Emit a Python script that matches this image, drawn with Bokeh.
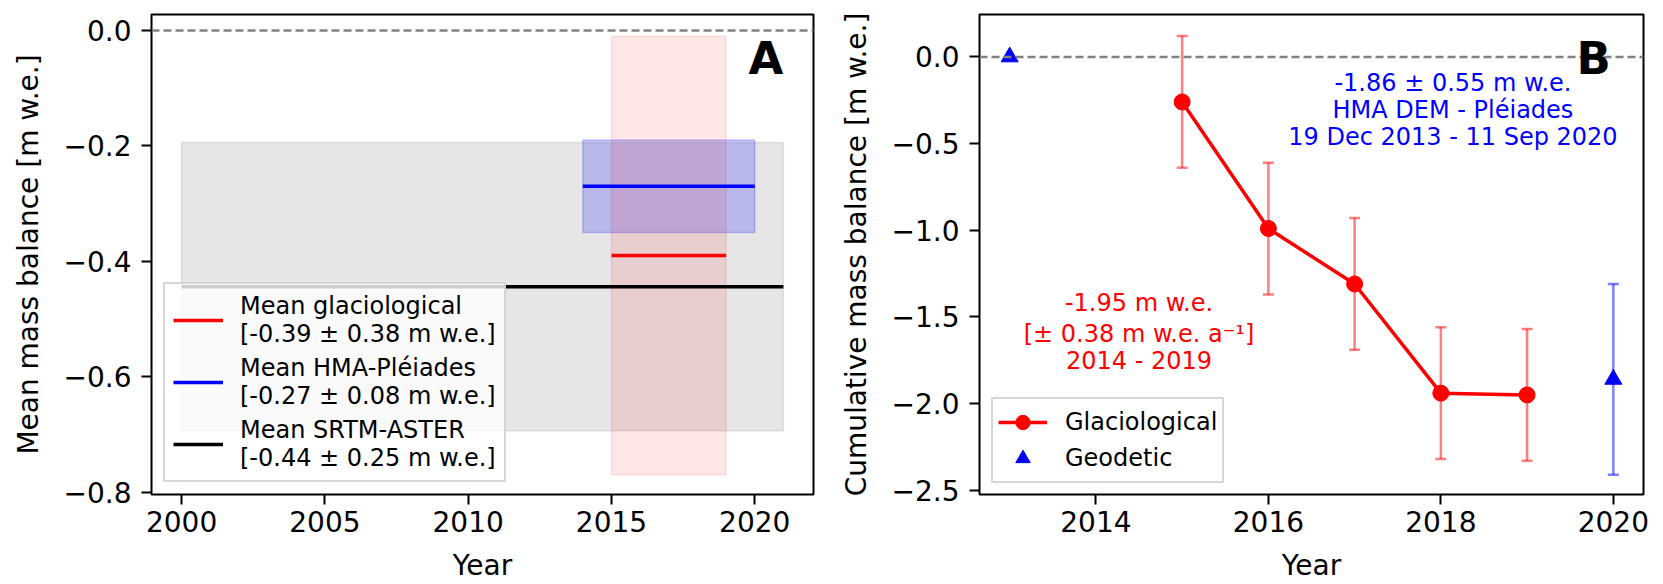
from bokeh.plotting import figure
from bokeh.models import (Range1d, FixedTicker, CustomJSTickFormatter, Span,
                          Legend, LegendItem, Label)
from bokeh.layouts import row
from bokeh.core.properties import value
from bokeh.embed import file_html
from bokeh.resources import INLINE

FONT = "DejaVu Sans"

# ---------------- Panel A data ----------------
a_labels = ["Mean glaciological\n[-0.39 ± 0.38 m w.e.]",
            "Mean HMA-Pléiades\n[-0.27 ± 0.08 m w.e.]",
            "Mean SRTM-ASTER\n[-0.44 ± 0.25 m w.e.]"]
a_start = [2015, 2014, 2000]
a_end = [2019, 2020, 2021]
a_mean = [-0.39, -0.27, -0.444]
a_err = [0.38, 0.08, 0.25]
a_colors = ["red", "blue", "black"]
a_box_colors = ["red", "blue", "grey"]
a_box_alpha = [0.1, 0.2, 0.2]
a_xticks = [2000, 2005, 2010, 2015, 2020]
a_yticks = [-0.8, -0.6, -0.4, -0.2, 0.0]

# ---------------- Panel B data ----------------
glac_years = [2015, 2016, 2017, 2018, 2019]
glac_cum = [-0.26, -0.99, -1.31, -1.94, -1.95]
glac_err = 0.38
geo_years = [2013, 2020]
geo_vals = [0.0, -1.86]
geo_err_year = [2020]
geo_err_val = [-1.86]
geo_err = 0.55
b_xticks = [2014, 2016, 2018, 2020]
b_yticks = [-2.5, -2.0, -1.5, -1.0, -0.5, 0.0]
blue_text = ["-1.86 ± 0.55 m w.e.", "HMA DEM - Pléiades", "19 Dec 2013 - 11 Sep 2020"]
red_text = ["-1.95 m w.e.", "[± 0.38 m w.e. a⁻¹]", "2014 - 2019"]

fmt = CustomJSTickFormatter(code="return tick.toFixed(1).replace('-', '\\u2212');")

H = 584
TOP = 14
BOTTOM = H - TOP - 481


def style(p, ylabel, xticks, yticks):
    p.outline_line_color = "black"
    p.outline_line_width = 2
    p.outline_line_alpha = 1
    p.grid.visible = False
    p.xaxis.ticker = FixedTicker(ticks=xticks)
    p.yaxis.ticker = FixedTicker(ticks=yticks)
    p.yaxis.formatter = fmt
    for ax in p.axis:
        ax.axis_line_color = None
        ax.major_tick_line_width = 2
        ax.major_tick_line_color = "black"
        ax.major_tick_out = 10
        ax.major_tick_in = 0
        ax.minor_tick_line_color = None
        ax.major_label_text_font = FONT
        ax.major_label_text_font_size = "28px"
        ax.major_label_text_color = "black"
        ax.axis_label_text_font = FONT
        ax.axis_label_text_font_size = "28px"
        ax.axis_label_text_font_style = "normal"
        ax.axis_label_text_color = "black"
    p.xaxis.major_label_standoff = 6
    p.xaxis.axis_label = "Year"
    p.xaxis.axis_label_standoff = 14
    p.yaxis.major_label_standoff = 10
    p.yaxis.axis_label = ylabel
    p.yaxis.axis_label_standoff = 16


# ---------------- Panel A ----------------
ya0, ya1 = -0.8043, 0.0277
pa = figure(width=818, height=H, x_range=Range1d(1998.95, 2022.05),
            y_range=Range1d(ya0, ya1), output_backend="svg",
            toolbar_location=None, min_border_left=151, min_border_right=5,
            min_border_top=TOP, min_border_bottom=BOTTOM)
style(pa, "Mean mass balance [m w.e.]", a_xticks, a_yticks)

pa.add_layout(Span(location=0, dimension="width", line_color="grey",
                   line_dash="8 4", line_width=2.5))

for i in [2, 1, 0]:
    pa.quad(left=[a_start[i]], right=[a_end[i]],
            bottom=[a_mean[i] - a_err[i]], top=[a_mean[i] + a_err[i]],
            fill_color=a_box_colors[i], fill_alpha=a_box_alpha[i],
            line_color=a_box_colors[i], line_alpha=a_box_alpha[i], line_width=1.5)

a_rend = {}
for i in [2, 1, 0]:
    a_rend[i] = pa.segment(x0=[a_start[i]], y0=[a_mean[i]], x1=[a_end[i]],
                           y1=[a_mean[i]], line_color=a_colors[i], line_width=3.5)

leg_a = Legend(items=[LegendItem(label=a_labels[i], renderers=[a_rend[i]]) for i in range(3)],
               location=(12, 12), label_text_font=FONT, label_text_font_size="24px",
               label_text_color="black",
               label_standoff=17, glyph_width=50, padding=8, spacing=6, margin=0,
               background_fill_color="white", background_fill_alpha=0.8,
               border_line_color="#cccccc", border_line_width=2, border_line_alpha=0.8)
pa.add_layout(leg_a)

pa.add_layout(Label(x=2021.0, y=-0.048, text="A", text_align="right",
                    text_baseline="alphabetic", text_font=FONT, text_color="black",
                    text_font_size="45px", text_font_style="bold"))

# ---------------- Panel B ----------------
yb0, yb1 = -2.5245, 0.2447
pb = figure(width=837, height=H, x_range=Range1d(2012.65, 2020.35),
            y_range=Range1d(yb0, yb1), output_backend="svg",
            toolbar_location=None, min_border_left=161, min_border_right=12,
            min_border_top=TOP, min_border_bottom=BOTTOM)
style(pb, "Cumulative mass balance [m w.e.]", b_xticks, b_yticks)

pb.add_layout(Span(location=0, dimension="width", line_color="grey",
                   line_dash="8 4", line_width=2.5))

g_lo = [v - glac_err for v in glac_cum]
g_hi = [v + glac_err for v in glac_cum]
pb.segment(x0=glac_years, y0=g_lo, x1=glac_years, y1=g_hi,
           line_color="red", line_alpha=0.5, line_width=2.5)
pb.scatter(x=glac_years + glac_years, y=g_lo + g_hi, marker="dash", size=11,
           line_color="red", line_alpha=0.5, line_width=2.5)

e_lo = [v - geo_err for v in geo_err_val]
e_hi = [v + geo_err for v in geo_err_val]
pb.segment(x0=geo_err_year, y0=e_lo, x1=geo_err_year, y1=e_hi,
           line_color="blue", line_alpha=0.5, line_width=2.5)
pb.scatter(x=geo_err_year + geo_err_year, y=e_lo + e_hi, marker="dash", size=11,
           line_color="blue", line_alpha=0.5, line_width=2.5)

r_line = pb.line(glac_years, glac_cum, line_color="red", line_width=3.5)
r_circ = pb.scatter(glac_years, glac_cum, marker="circle", size=16,
                    fill_color="red", line_color="red")
r_tri = pb.scatter(geo_years, geo_vals, marker="triangle", size=17,
                   fill_color="blue", line_color="blue")

pb.text(x=[2018.14] * 3, y=[-0.153, -0.308, -0.460], text=blue_text,
        text_color="blue", text_font=value(FONT), text_font_size=value("24px"),
        text_align="center", text_baseline="middle")
pb.text(x=[2014.5] * 3, y=[-1.419, -1.597, -1.753], text=red_text,
        text_color="red", text_font=value(FONT), text_font_size=value("24px"),
        text_align="center", text_baseline="middle")

leg_b = Legend(items=[LegendItem(label="Glaciological", renderers=[r_line, r_circ]),
                      LegendItem(label="Geodetic", renderers=[r_tri])],
               location=(12, 11), label_text_font=FONT, label_text_font_size="24px",
               label_text_color="black",
               label_standoff=18, glyph_width=49, glyph_height=36, padding=5,
               spacing=0, margin=0,
               background_fill_color="white", background_fill_alpha=0.8,
               border_line_color="#cccccc", border_line_width=2, border_line_alpha=0.8)
pb.add_layout(leg_b)

pb.add_layout(Label(x=2019.97, y=-0.009, text="B", text_align="right",
                    text_baseline="alphabetic", text_font=FONT, text_color="black",
                    text_font_size="45px", text_font_style="bold"))

layout = row(pa, pb)
open("out.html", "w").write(file_html(layout, INLINE))
